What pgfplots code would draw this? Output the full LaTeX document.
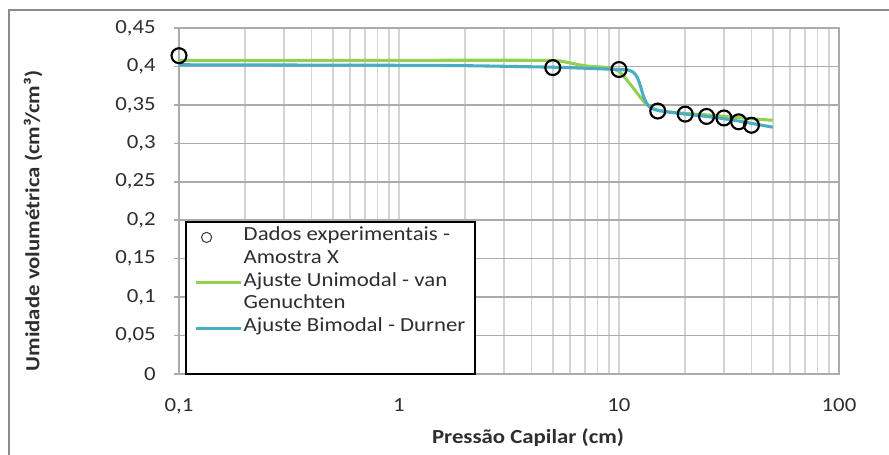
\documentclass[border=0pt]{standalone}
\usepackage{fontspec}
\setmainfont{Carlito}[FakeStretch=1.14]
\usepackage{pgfplots}
\pgfplotsset{compat=1.18}

\definecolor{vgGreen}{HTML}{92D050}
\definecolor{dnBlue}{HTML}{4BACC6}
\definecolor{gridx}{HTML}{D4D4D4}
\definecolor{gridy}{HTML}{ABABAB}
\definecolor{frameg}{HTML}{8C8C8C}
\definecolor{txt}{HTML}{2E2E2E}

\begin{document}
\begin{tikzpicture}
  % whole chart area, 1px = 0.75pt, axis origin at px (179,374)
  \path[use as bounding box] (-134.25pt,-60pt) rectangle (532.5pt,280.5pt);
  \draw[frameg, line width=2.2pt] (-127.5pt,-62pt) -- (-127.5pt,273pt) -- (535pt,273pt);

  \begin{semilogxaxis}[
      scale only axis,
      width=495pt, height=259.5pt,
      xmin=0.1, xmax=100,
      ymin=0, ymax=0.45,
      ytick={0,0.05,...,0.45},
      xtick={0.1,1,10,100},
      xticklabels={0{,}1,1,10,100},
      /pgf/number format/fixed,
      /pgf/number format/precision=2,
      /pgf/number format/use comma,
      /pgf/number format/assume math mode=true,
      font=\fontsize{15}{17}\selectfont,
      tick label style={txt},
      xticklabel style={yshift=-11pt},
      yticklabel style={xshift=-10pt},
      xmajorgrids, xminorgrids, ymajorgrids,
      major x grid style={gridx, line width=1.1pt},
      minor x grid style={gridx, line width=1.1pt},
      major y grid style={gridy, line width=1.1pt},
      axis line style={gridy, line width=1.1pt},
      xtick style={draw=none},
      minor tick style={draw=none},
      ytick style={gridy, line width=1.1pt},
      tick align=outside,
      major tick length=4pt,
      ytick pos=left,
      clip=false,
      every axis x label/.style={at={(axis description cs:0.5288,-0.185)}, anchor=center, font=\fontsize{15}{17}\selectfont\bfseries, txt},
      every axis y label/.style={at={(axis description cs:-0.2212,0.442)}, rotate=90, anchor=center, font=\fontsize{15}{17}\selectfont\bfseries, txt},
      xlabel={Pressão Capilar (cm)},
      ylabel={Umidade volumétrica (cm³/cm³)},
      legend style={at={(axis description cs:0.0091,0.442)}, anchor=north west,
        draw=black, line width=1.5pt, fill=white, inner xsep=6pt, inner ysep=3pt,
        font=\fontsize{15}{17}\selectfont, text=txt,
        nodes={inner ysep=0pt, inner xsep=1pt, text height=11pt, text depth=6pt}, row sep=0pt},
      legend cell align=left,
    ]
    % ajuste unimodal (van Genuchten)
    \addplot[vgGreen, line width=2.3pt, smooth, tension=0.45, forget plot]
      coordinates {
        (0.1,0.408) (1,0.408) (4,0.408) (5.3,0.4072) (6,0.4045) (7.1,0.4006)
        (8.8,0.3985) (10,0.3935) (11.2,0.3777) (12.5,0.360) (13.5,0.3495)
        (14.8,0.3435) (17,0.3408) (20,0.339) (25,0.337) (30,0.335) (40,0.332) (50,0.330)
      };
    % ajuste bimodal (Durner)
    \addplot[dnBlue, line width=2.3pt, smooth, tension=0.45, forget plot]
      coordinates {
        (0.1,0.4022) (1,0.4015) (2,0.401) (5,0.399) (8,0.397) (10,0.396)
        (11,0.3952) (11.6,0.3925) (12.1,0.386) (12.5,0.375) (12.9,0.362)
        (13.3,0.353) (13.8,0.3472) (14.5,0.344) (16,0.3415) (20,0.338)
        (25,0.335) (30,0.332) (35,0.329) (40,0.326) (50,0.321)
      };
    % dados experimentais
    \addplot[only marks, mark=o, mark size=5.6pt, mark options={black, line width=1.6pt}, forget plot]
      coordinates {
        (0.1,0.414) (5,0.3985) (10,0.396) (15,0.342) (20,0.338)
        (25,0.335) (30,0.333) (35,0.328) (40,0.3235)
      };
    \addlegendimage{legend image code/.code={\path[draw=none] (0pt,0pt) -- (34pt,0pt); \draw[black!75, line width=0.8pt] (8.3pt,0pt) circle (3.8pt);}}
    \addlegendentry{Dados experimentais -}
    \addlegendimage{empty legend}
    \addlegendentry{Amostra X}
    \addlegendimage{legend image code/.code={\draw[vgGreen, line width=2.3pt] (0pt,0pt) -- (34pt,0pt);}}
    \addlegendentry{Ajuste Unimodal - van}
    \addlegendimage{empty legend}
    \addlegendentry{Genuchten}
    \addlegendimage{legend image code/.code={\draw[dnBlue, line width=2.3pt] (0pt,0pt) -- (34pt,0pt);}}
    \addlegendentry{Ajuste Bimodal - Durner}
    \addlegendimage{empty legend}
    \addlegendentry[text depth=12pt]{}
  \end{semilogxaxis}
\end{tikzpicture}
\end{document}
